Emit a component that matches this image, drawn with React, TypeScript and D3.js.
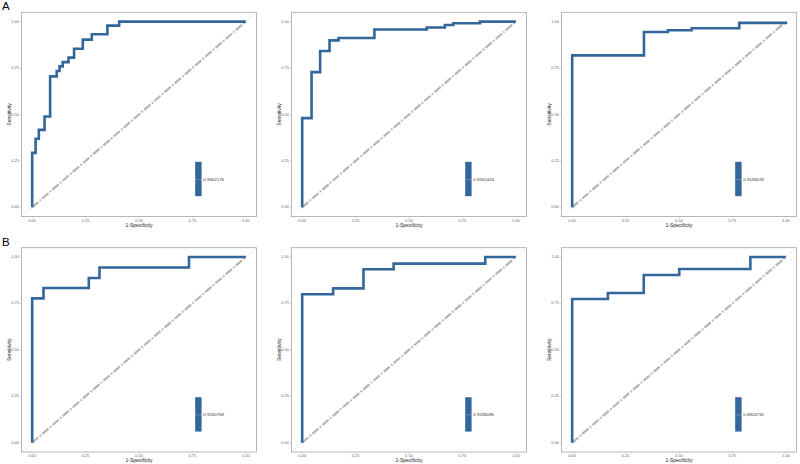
import React from "react";
import * as d3 from "d3";

// ROC corner points (1-Specificity, Sensitivity), drawn as vertical-then-horizontal steps
const fprA1 = [0, 0.016, 0.031, 0.058, 0.084, 0.115, 0.128, 0.143, 0.170, 0.196, 0.237, 0.279, 0.352, 0.407, 1];
const tprA1 = [0, 0.293, 0.369, 0.417, 0.489, 0.705, 0.734, 0.759, 0.782, 0.806, 0.854, 0.903, 0.932, 0.978, 1];
const fprA2 = [0, 0.044, 0.084, 0.128, 0.170, 0.338, 0.583, 0.668, 0.707, 0.832, 1];
const tprA2 = [0, 0.480, 0.728, 0.842, 0.899, 0.912, 0.957, 0.968, 0.982, 0.991, 1];
const fprA3 = [0, 0.336, 0.448, 0.559, 0.782, 1, 1];
const tprA3 = [0, 0.818, 0.944, 0.953, 0.964, 0.993, 1];
const fprB1 = [0, 0.053, 0.265, 0.315, 0.734, 1];
const tprB1 = [0, 0.777, 0.833, 0.887, 0.943, 1];
const fprB2 = [0, 0.145, 0.287, 0.428, 0.857, 1];
const tprB2 = [0, 0.799, 0.831, 0.934, 0.964, 1];
const fprB3 = [0, 0.167, 0.335, 0.501, 0.834, 1];
const tprB3 = [0, 0.774, 0.806, 0.903, 0.935, 1];

const aucLabels = ["0.9062176", "0.9262424", "0.9158076", "0.9230769", "0.9238095", "0.8924731"];
const rowLabels = ["A", "B"];
const tickValues = [0, 0.25, 0.5, 0.75, 1];
const tickLabels = ["0.00", "0.25", "0.50", "0.75", "1.00"];
const xTitle = "1-Specificity";
const yTitle = "Sensitivity";

const panelsFpr = [fprA1, fprA2, fprA3, fprB1, fprB2, fprB3];
const panelsTpr = [tprA1, tprA2, tprA3, tprB1, tprB2, tprB3];

const colLeft = [21.5, 291.5, 561.5];
const rowTop = [12.3, 247.7];
const PW = 235;
const PH = 204.3;
const BLUE = "#33669a";
const FONT = "Liberation Sans, Arial, sans-serif";

function Panel({ idx }: { idx: number }) {
  const col = idx % 3;
  const row = Math.floor(idx / 3);
  const left = colLeft[col];
  const top = rowTop[row];
  const x = d3.scaleLinear().domain([-0.05, 1.05]).range([left, left + PW]);
  const y = d3.scaleLinear().domain([-0.05, 1.05]).range([top + PH, top]);
  const pts: [number, number][] = panelsFpr[idx].map((f, i) => [f, panelsTpr[idx][i]]);
  const line = d3
    .line<[number, number]>()
    .x((d) => x(d[0]))
    .y((d) => y(d[1]))
    .curve(d3.curveStepBefore);
  const diag = d3
    .line<[number, number]>()
    .x((d) => x(d[0]))
    .y((d) => y(d[1]));
  const bx0 = 0.763, bx1 = 0.793, by0 = 0.06, by1 = 0.245, ty = 0.15;
  return (
    <g>
      <rect x={left} y={top} width={PW} height={PH} fill="#fff" stroke="#a6a6a6" strokeWidth={0.8} />
      {/* thin dotted reference across the panel */}
      <path d={diag([[-0.05, -0.05], [1.05, 1.05]]) || ""} stroke="#8c8c8c" strokeWidth={0.5} strokeDasharray="0.8 1.6" fill="none" />
      {/* thick dash-dot diagonal */}
      <path d={diag([[0, 0], [1, 1]]) || ""} stroke="#b5b5b5" strokeWidth={2.2} strokeDasharray="8 2 1.5 2" fill="none" />
      <path d={line(pts) || ""} stroke={BLUE} strokeWidth={2.6} fill="none" strokeLinejoin="miter" />
      {/* AUC box */}
      <rect x={x(bx0)} y={y(by1)} width={x(bx1) - x(bx0)} height={y(by0) - y(by1)} fill={BLUE} />
      <line x1={x(bx0)} x2={x(0.8)} y1={y(ty)} y2={y(ty)} stroke="#d9d9d9" strokeWidth={0.5} strokeDasharray="1.5 1" />
      <text x={x(0.801)} y={y(ty)} fontSize={4.4} fill="#333" dominantBaseline="middle" fontFamily={FONT}>
        {aucLabels[idx]}
      </text>
      {/* axes ticks */}
      {tickValues.map((t, i) => (
        <g key={"x" + i}>
          <line x1={x(t)} x2={x(t)} y1={top + PH} y2={top + PH + 1.5} stroke="#a6a6a6" strokeWidth={0.5} />
          <text x={x(t)} y={top + PH + 5.2} fontSize={4} fill="#666" textAnchor="middle" fontFamily={FONT}>
            {tickLabels[i]}
          </text>
          <line x1={left - 1.5} x2={left} y1={y(t)} y2={y(t)} stroke="#a6a6a6" strokeWidth={0.5} />
          <text x={left - 2.5} y={y(t)} fontSize={4} fill="#666" textAnchor="end" dominantBaseline="middle" fontFamily={FONT}>
            {tickLabels[i]}
          </text>
        </g>
      ))}
      <text x={left + PW / 2} y={top + PH + 10} fontSize={5} fill="#222" textAnchor="middle" fontFamily={FONT}>
        {xTitle}
      </text>
      <text
        transform={`translate(${left - 10.5},${top + PH / 2}) rotate(-90)`}
        fontSize={5}
        fill="#222"
        textAnchor="middle"
        fontFamily={FONT}
      >
        {yTitle}
      </text>
    </g>
  );
}

export default function App() {
  return (
    <svg width={800} height={464} style={{ position: "absolute", left: 0, top: 0, background: "#fff" }}>
      <rect x={0} y={0} width={800} height={464} fill="#fff" />
      {[0, 1, 2, 3, 4, 5].map((i) => (
        <Panel key={i} idx={i} />
      ))}
      {rowLabels.map((l, i) => (
        <text key={l} x={2} y={i === 0 ? 10 : 245.5} fontSize={11.5} fill="#000" fontFamily={FONT}>
          {l}
        </text>
      ))}
    </svg>
  );
}
